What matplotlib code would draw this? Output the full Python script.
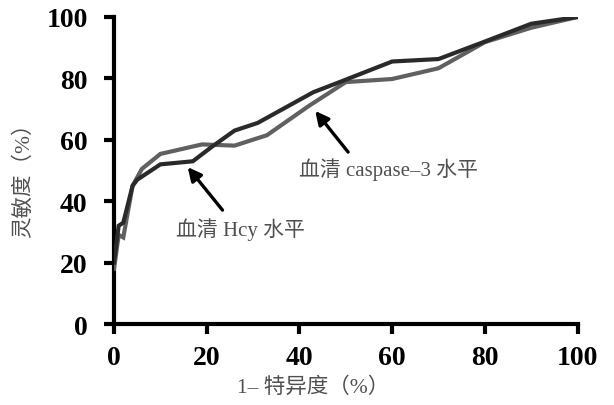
import matplotlib
matplotlib.use("Agg")
import matplotlib.pyplot as plt

# ROC curves (1-specificity %, sensitivity %)
hcy_x = [0, 1, 2, 4, 5, 10, 17, 21, 26, 31, 40, 43, 49, 60, 70, 80, 90, 100]
hcy_y = [20, 32, 33, 45, 47, 52, 53, 57.6, 63, 65.5, 73, 75.5, 79, 85.5, 86.3, 92, 97.8, 100]

casp_x = [0, 1, 2, 4, 6, 10, 19, 26, 33, 42, 50, 60, 70, 80, 90, 100]
casp_y = [18, 29, 28.2, 45, 50.5, 55.4, 58.5, 58.1, 61.5, 71, 78.8, 79.8, 83.3, 91.8, 96.5, 100]

xticks = [0, 20, 40, 60, 80, 100]
yticks = [0, 20, 40, 60, 80, 100]

serif_cjk = ['Liberation Serif', 'Noto Sans CJK SC', 'DejaVu Sans']
text_grey = '#505050'

fig = plt.figure(figsize=(6.14, 4.06), dpi=100)
ax = fig.add_axes([0.1857, 0.1995, 0.755, 0.7562])

ax.plot(casp_x, casp_y, color='#606060', lw=3.0, solid_joinstyle='miter', zorder=3)
ax.plot(hcy_x, hcy_y, color='#2a2a2a', lw=3.0, solid_joinstyle='miter', zorder=4)

ax.set_xlim(0, 100)
ax.set_ylim(0, 100)
ax.set_xticks(xticks)
ax.set_yticks(yticks)
for s in ['top', 'right']:
    ax.spines[s].set_visible(False)
for s in ['left', 'bottom']:
    ax.spines[s].set_linewidth(3)
    ax.spines[s].set_capstyle('projecting')
ax.tick_params(direction='out', length=7, width=3)
for lab in ax.get_xticklabels() + ax.get_yticklabels():
    lab.set_fontfamily('Liberation Serif')
    lab.set_fontweight('bold')
    lab.set_fontsize(20)
ax.tick_params(axis='x', pad=8)
ax.tick_params(axis='y', pad=12)

# axis titles
fig.text(24 / 614, 1 - 175 / 406, '灵敏度（%）', rotation=90, ha='center', va='center',
         family=serif_cjk, fontsize=15.5, color=text_grey)
fig.text(313 / 614, 1 - 388 / 406, '1– 特异度（%）', ha='center', va='center',
         family=serif_cjk, fontsize=15.5, color=text_grey)

# annotations
arrow = dict(arrowstyle='-|>', color='black', lw=2.4, mutation_scale=20, shrinkA=0, shrinkB=0)
ax.annotate('', xy=(15.9, 51.1), xytext=(23.4, 37.1), arrowprops=arrow)
ax.text(27.2, 31, '血清 Hcy 水平', ha='center', va='center', family=serif_cjk,
        fontsize=15, color=text_grey)
ax.annotate('', xy=(43.4, 69.4), xytext=(50.5, 56), arrowprops=arrow)
ax.text(59.3, 50.5, '血清 caspase–3 水平', ha='center', va='center', family=serif_cjk,
        fontsize=15, color=text_grey)

fig.savefig('out.png', dpi=100)
